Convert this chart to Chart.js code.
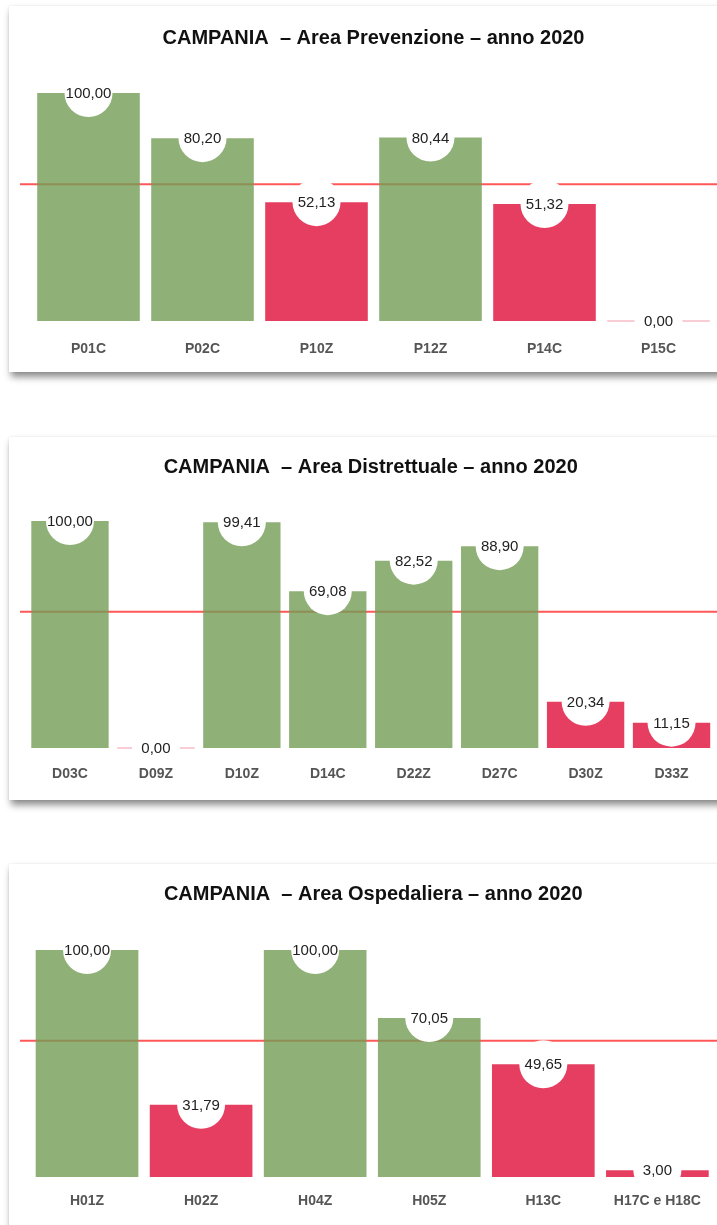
<!DOCTYPE html>
<html>
<head>
<meta charset="utf-8">
<script src="https://cdn.jsdelivr.net/npm/chart.js@4/dist/chart.umd.min.js"></script>
<style>
  html, body { margin: 0; padding: 0; background: #fff; overflow: hidden; width: 717px; height: 1225px; }
  .panel {
    position: absolute; left: 9px; width: 760px; background: #fff;
    box-shadow: 2px 5px 7px rgba(0, 0, 0, 0.45), 0 0 2px rgba(0, 0, 0, 0.08);
  }
  .panel canvas { position: absolute; left: 0; top: 0; }
</style>
</head>
<body>
<div class="panel" id="p1" style="top:6px;height:366px"><canvas id="c1" width="708" height="366"></canvas></div>
<div class="panel" id="p2" style="top:437px;height:363px"><canvas id="c2" width="708" height="363"></canvas></div>
<div class="panel" id="p3" style="top:864px;height:380px"><canvas id="c3" width="708" height="361"></canvas></div>
<script>
  // --- data ---
  const prevLabels = ["P01C", "P02C", "P10Z", "P12Z", "P14C", "P15C"];
  const prevValues = [100.00, 80.20, 52.13, 80.44, 51.32, 0.00];

  const distLabels = ["D03C", "D09Z", "D10Z", "D14C", "D22Z", "D27C", "D30Z", "D33Z"];
  const distValues = [100.00, 0.00, 99.41, 69.08, 82.52, 88.90, 20.34, 11.15];

  const ospLabels = ["H01Z", "H02Z", "H04Z", "H05Z", "H13C", "H17C e H18C"];
  const ospValues = [100.00, 31.79, 100.00, 70.05, 49.65, 3.00];

  const THRESHOLD = 60;

  const COLORS = {
    good: "rgba(115, 156, 85, 0.8)",
    bad: "#e63e60",
    zero: "rgba(230, 62, 96, 0.35)",
    line: "#ff5757",
    label: "#222",
    tick: "#555",
    title: "#111",
  };

  Chart.defaults.font.family = "'Liberation Sans', Arial, sans-serif";

  const fmt = (v) => v.toFixed(2).replace(".", ",");

  // threshold line under the bars, white notch + value over them
  const markerPlugin = {
    id: "markers",
    beforeDatasetsDraw(chart) {
      const ctx = chart.ctx;
      const y = chart.scales.y.getPixelForValue(THRESHOLD);
      ctx.save();
      ctx.strokeStyle = COLORS.line;
      ctx.lineWidth = 2;
      ctx.beginPath();
      ctx.moveTo(11, y);
      ctx.lineTo(chart.width, y);
      ctx.stroke();
      ctx.restore();
    },
    afterDatasetsDraw(chart) {
      const ctx = chart.ctx;
      const area = chart.chartArea;
      const meta = chart.getDatasetMeta(0);
      const values = chart.data.datasets[0].data;
      meta.data.forEach((bar, i) => {
        const v = values[i];
        ctx.save();
        if (v === 0) {
          ctx.strokeStyle = COLORS.zero;
          ctx.lineWidth = 1.5;
          ctx.beginPath();
          ctx.moveTo(bar.x - bar.width / 2, bar.base);
          ctx.lineTo(bar.x + bar.width / 2, bar.base);
          ctx.stroke();
        }
        // notch only above the baseline so tick labels stay visible
        ctx.beginPath();
        ctx.rect(0, 0, chart.width, area.bottom + 1);
        ctx.clip();
        ctx.fillStyle = "#fff";
        ctx.beginPath();
        ctx.arc(bar.x, bar.y, 24, 0, Math.PI * 2);
        ctx.fill();
        ctx.restore();

        ctx.save();
        ctx.fillStyle = COLORS.label;
        ctx.font = "15px 'Liberation Sans', Arial, sans-serif";
        ctx.textAlign = "center";
        ctx.textBaseline = "middle";
        ctx.fillText(fmt(v), bar.x, bar.y + 1);
        ctx.restore();
      });
    },
  };

  function buildChart(canvasId, title, labels, values, lay) {
    new Chart(document.getElementById(canvasId), {
      type: "bar",
      data: {
        labels: labels,
        datasets: [{
          data: values,
          backgroundColor: values.map((v) => (v >= THRESHOLD ? COLORS.good : COLORS.bad)),
          barPercentage: 0.9,
          categoryPercentage: 1.0,
        }],
      },
      options: {
        responsive: false,
        animation: false,
        layout: { padding: { left: lay.left, right: lay.right, top: 0, bottom: lay.bottom } },
        plugins: {
          legend: { display: false },
          tooltip: { enabled: false },
          title: {
            display: true,
            text: title,
            color: COLORS.title,
            font: { size: 20, weight: "bold" },
            padding: { top: lay.titleTop, bottom: lay.titleBottom },
          },
        },
        scales: {
          x: {
            grid: { display: false, drawTicks: false },
            border: { display: false },
            ticks: { color: COLORS.tick, font: { size: 14, weight: "bold" }, padding: lay.tickPad, maxRotation: 0 },
            afterFit: (s) => { s.height = 40; },
          },
          y: { display: false, min: 0, max: 100 },
        },
      },
      plugins: [markerPlugin],
    });
  }

  buildChart("c1", "CAMPANIA  \u2013 Area Prevenzione \u2013 anno 2020", prevLabels, prevValues,
    { left: 22.5, right: 1.5, bottom: 11, titleTop: 20, titleBottom: 43, tickPad: 20 });
  buildChart("c2", "CAMPANIA  \u2013 Area Distrettuale \u2013 anno 2020", distLabels, distValues,
    { left: 18, right: 2.5, bottom: 12, titleTop: 18, titleBottom: 42, tickPad: 18 });
  buildChart("c3", "CAMPANIA  \u2013 Area Ospedaliera \u2013 anno 2020", ospLabels, ospValues,
    { left: 21, right: 0.5, bottom: 8, titleTop: 18, titleBottom: 44, tickPad: 16 });
</script>
</body>
</html>
